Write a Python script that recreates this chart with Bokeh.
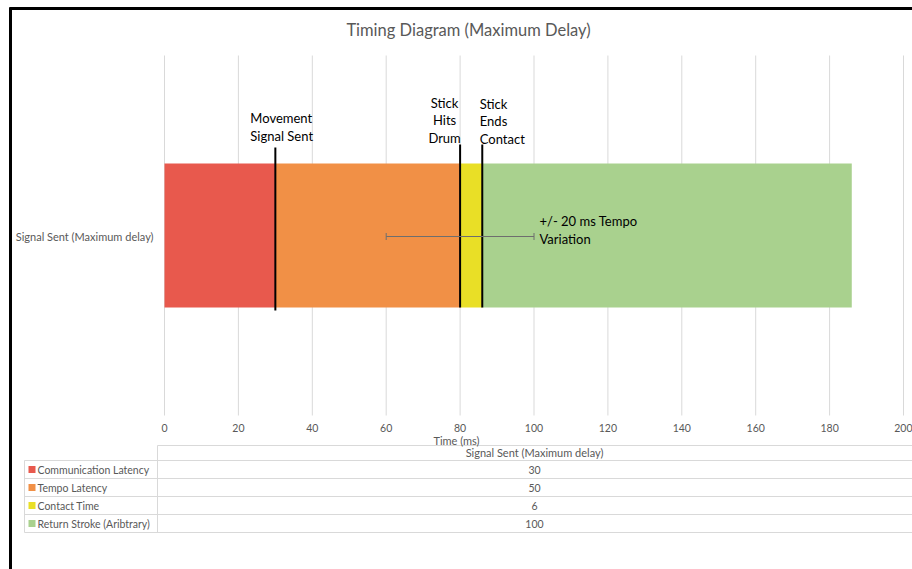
from bokeh.plotting import figure
from bokeh.models import (Range1d, ColumnDataSource, LinearAxis, FixedTicker,
                          Whisker, TeeHead)
from bokeh.core.properties import value
from bokeh.embed import file_html
from bokeh.resources import INLINE

# ---- data ---------------------------------------------------------------
category = "Signal Sent (Maximum delay)"
series_names = ["Communication Latency", "Tempo Latency", "Contact Time",
                "Return Stroke (Aribtrary)"]
series_values = [30, 50, 6, 100]
series_colors = ["#E8594D", "#F19046", "#E9DF26", "#A9D18E"]
x_ticks = [0, 20, 40, 60, 80, 100, 120, 140, 160, 180, 200]
tempo_center = 80
tempo_spread = 20
event_labels = ["Movement\nSignal Sent", "Stick\nHits\nDrum", "Stick\nEnds\nContact"]
title_text = "Timing Diagram (Maximum Delay)"
x_title = "Time (ms)"
tempo_text = "+/- 20 ms Tempo\nVariation"

# ---- layout (canvas pixels) --------------------------------------------
W, H = 912, 569
X0_PX, X200_PX = 164, 903
PX_PER_MS = (X200_PX - X0_PX) / 200.0
FONT = value("Lato")
GREY = "#595959"
RULE = "#D9D9D9"
LINE_H = 1.07

p = figure(width=W, height=H, min_border=0, toolbar_location=None,
           output_backend="svg", x_axis_type=None, y_axis_type=None,
           x_range=Range1d(-X0_PX / PX_PER_MS, (W - X0_PX) / PX_PER_MS),
           y_range=Range1d(H, 0))
p.outline_line_color = None
p.background_fill_color = "white"
p.extra_x_ranges = {"px": Range1d(0, W)}

# chart border (top and left edges)
p.segment(x0=[10, 9], y0=[7, 8], x1=[10, W], y1=[H, 8],
          line_color="black", line_width=3, x_range_name="px")

# vertical gridlines at the tick positions
p.segment(x0=x_ticks, y0=[55] * len(x_ticks), x1=x_ticks, y1=[415] * len(x_ticks),
          line_color=RULE, line_width=1)

# stacked timing bar
lefts, rights = [], []
acc = 0
for v in series_values:
    lefts.append(acc)
    acc += v
    rights.append(acc)
bars = ColumnDataSource(dict(left=lefts, right=rights, color=series_colors,
                             y=[235] * len(series_values)))
p.hbar(y="y", left="left", right="right", height=144, fill_color="color",
       line_color=None, source=bars)

# tempo variation error bar
err = ColumnDataSource(dict(base=[236], lower=[tempo_center - tempo_spread],
                            upper=[tempo_center + tempo_spread]))
p.add_layout(Whisker(source=err, base="base", lower="lower", upper="upper",
                     dimension="width", level="annotation",
                     line_color="#6E6E6E", line_width=1,
                     lower_head=TeeHead(size=7, line_color="#6E6E6E", line_width=1),
                     upper_head=TeeHead(size=7, line_color="#6E6E6E", line_width=1)))
p.text(x=[tempo_center + tempo_spread], y=[229.5], text=[tempo_text], x_offset=5.5,
       text_align="left", text_baseline="middle", text_font=FONT,
       text_font_size="13px", text_line_height=LINE_H, text_color="black")

# event markers at the segment boundaries
events = rights[:3]
p.segment(x0=events, x1=events, y0=[147, 144, 144], y1=[310, 307, 307],
          line_color="black", line_width=2, level="annotation")
p.text(x=[events[0]], y=[126.5], text=[event_labels[0]], x_offset=-25,
       text_align="left", text_baseline="middle", text_font=FONT,
       text_font_size="13px", text_line_height=LINE_H, text_color="black")
p.text(x=[events[1]], y=[120], text=[event_labels[1]], x_offset=-15.5,
       text_align="center", text_baseline="middle", text_font=FONT,
       text_font_size="13px", text_line_height=LINE_H, text_color="black")
p.text(x=[events[2]], y=[121], text=[event_labels[2]], x_offset=-2.5,
       text_align="left", text_baseline="middle", text_font=FONT,
       text_font_size="13px", text_line_height=LINE_H, text_color="black")

# title and category label
p.text(x=[468], y=[29], text=[title_text], x_range_name="px", text_align="center",
       text_baseline="middle", text_font=FONT, text_font_size="16.5px",
       text_color=GREY)
p.text(x=[153], y=[236], text=[category], x_range_name="px", text_align="right",
       text_baseline="middle", text_font=FONT, text_font_size="11px",
       text_color=GREY)

# time axis
xaxis = LinearAxis(fixed_location=415, ticker=FixedTicker(ticks=x_ticks),
                   axis_label=x_title)
xaxis.axis_line_color = None
xaxis.major_tick_line_color = None
xaxis.minor_tick_line_color = None
xaxis.major_tick_out = 0
xaxis.major_label_standoff = 8
xaxis.major_label_text_font = "Lato"
xaxis.major_label_text_font_size = "10.5px"
xaxis.major_label_text_color = GREY
xaxis.axis_label_standoff = -1
xaxis.axis_label_text_font = "Lato"
xaxis.axis_label_text_font_style = "normal"
xaxis.axis_label_text_font_size = "11px"
xaxis.axis_label_text_color = GREY
p.add_layout(xaxis, "below")

# data table under the chart
row_y = [460, 478, 496, 514, 532]
p.segment(x0=[157] + [24] * len(row_y), x1=[W] * (len(row_y) + 1),
          y0=[445] + row_y, y1=[445] + row_y,
          line_color=RULE, line_width=1, x_range_name="px")
p.segment(x0=[24, 157], x1=[24, 157], y0=[460, 445], y1=[532, 532],
          line_color=RULE, line_width=1, x_range_name="px")
p.text(x=[534], y=[452], text=[category], x_range_name="px", text_align="center",
       text_baseline="middle", text_font=FONT, text_font_size="11px",
       text_color=GREY)
row_mid = [(a + b) / 2 for a, b in zip(row_y[:-1], row_y[1:])]
p.text(x=[534] * len(series_values), y=row_mid,
       text=[str(v) for v in series_values], x_range_name="px",
       text_align="center", text_baseline="middle", text_font=FONT,
       text_font_size="10.5px", text_color=GREY)
p.rect(x=[31.5] * len(series_values), y=row_mid, width=7, height=7,
       fill_color=series_colors, line_color=None, x_range_name="px")
p.text(x=[37] * len(series_values), y=row_mid, text=series_names,
       x_range_name="px", text_align="left", text_baseline="middle",
       text_font=FONT, text_font_size="10.5px", text_color=GREY)

open("out.html", "w").write(file_html(p, INLINE))
